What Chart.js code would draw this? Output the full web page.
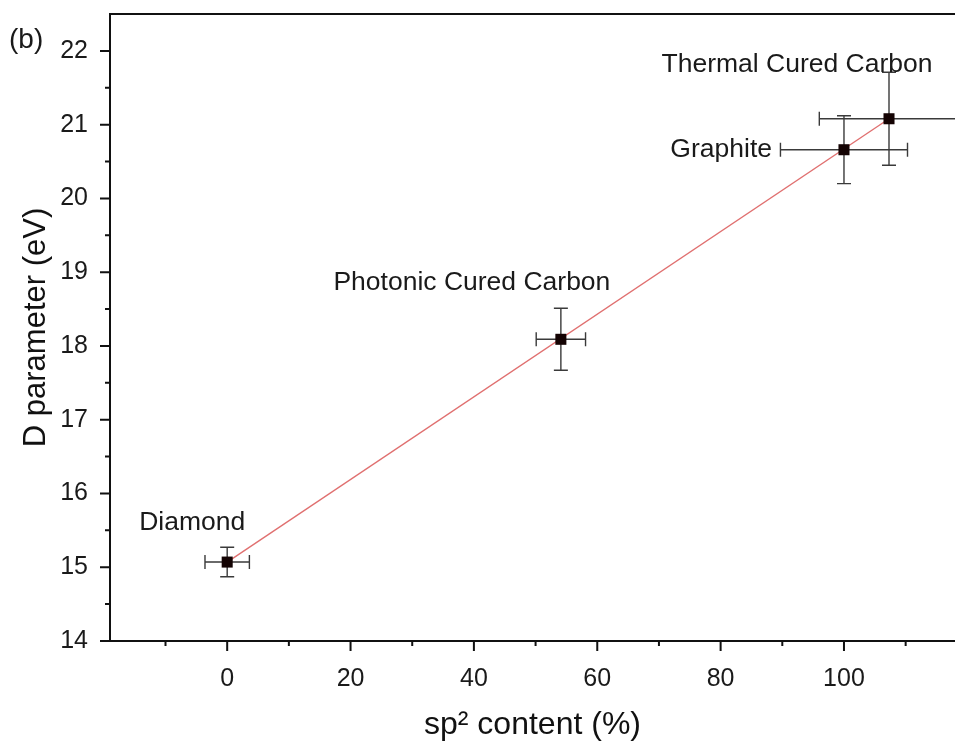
<!DOCTYPE html>
<html><head><meta charset="utf-8">
<script src="https://cdn.jsdelivr.net/npm/chart.js@4"></script>
<style>html,body{margin:0;padding:0;background:#fff}</style>
</head><body>
<canvas id="c" width="955" height="747"></canvas>
<script>
// ---- data ----
const materials = ['Diamond', 'Photonic Cured Carbon', 'Graphite', 'Thermal Cured Carbon'];
const sp2Content = [0, 54.1, 100, 107.3];
const dParameter = [15.07, 18.09, 20.66, 21.08];
const sp2Error = [3.6, 4.0, 10.3, 11.3];
const dError = [0.2, 0.42, 0.46, 0.63];
const fitX = [0, 107.3];
const fitY = [15.07, 21.08];
const xTicks = [0, 20, 40, 60, 80, 100];
const xMinorTicks = [-10, 10, 30, 50, 70, 90, 110];
const yTicks = [14, 15, 16, 17, 18, 19, 20, 21, 22];
const yMinorTicks = [14.5, 15.5, 16.5, 17.5, 18.5, 19.5, 20.5, 21.5];
const xRange = [-19, 118];
const yRange = [14, 22.5];
const panelLabel = '(b)';

// ---- styles ----
const FAMILY = '"Liberation Sans", Arial, sans-serif';
const labelStyle = [
  {dx: -35, dy: -32, align: 'center'},
  {dx: -89, dy: -49, align: 'center'},
  {dx: -72, dy: 7, align: 'right'},
  {dx: -92, dy: -47, align: 'center'}
];

function noPad(s) { s.paddingTop = 0; s.paddingBottom = 0; s.paddingLeft = 0; s.paddingRight = 0; }

const decor = {
  id: 'decor',
  beforeDatasetsDraw(chart) {
    const {ctx, scales: {x, y}} = chart;
    ctx.save();
    ctx.strokeStyle = '#3a3a3a';
    ctx.lineWidth = 1.4;
    const cap = 7;
    for (let i = 0; i < sp2Content.length; i++) {
      const px = x.getPixelForValue(sp2Content[i]);
      const py = y.getPixelForValue(dParameter[i]);
      const x0 = x.getPixelForValue(sp2Content[i] - sp2Error[i]);
      const x1 = x.getPixelForValue(sp2Content[i] + sp2Error[i]);
      const y0 = y.getPixelForValue(dParameter[i] + dError[i]);
      const y1 = y.getPixelForValue(dParameter[i] - dError[i]);
      ctx.beginPath();
      ctx.moveTo(x0, py); ctx.lineTo(x1, py);
      ctx.moveTo(x0, py - cap); ctx.lineTo(x0, py + cap);
      ctx.moveTo(x1, py - cap); ctx.lineTo(x1, py + cap);
      ctx.moveTo(px, y0); ctx.lineTo(px, y1);
      ctx.moveTo(px - cap, y0); ctx.lineTo(px + cap, y0);
      ctx.moveTo(px - cap, y1); ctx.lineTo(px + cap, y1);
      ctx.stroke();
    }
    ctx.restore();
  },
  afterDraw(chart) {
    const {ctx, chartArea: a, scales: {x, y}} = chart;
    ctx.save();
    ctx.strokeStyle = '#111';
    ctx.lineWidth = 2;
    // top frame line
    ctx.beginPath();
    ctx.moveTo(a.left - 1, a.top); ctx.lineTo(a.right, a.top);
    ctx.stroke();
    // ticks
    ctx.beginPath();
    xTicks.forEach(v => { const p = x.getPixelForValue(v); ctx.moveTo(p, a.bottom); ctx.lineTo(p, a.bottom + 10); });
    xMinorTicks.forEach(v => { const p = x.getPixelForValue(v); ctx.moveTo(p, a.bottom); ctx.lineTo(p, a.bottom + 5); });
    yTicks.forEach(v => { const p = y.getPixelForValue(v); ctx.moveTo(a.left, p); ctx.lineTo(a.left - 10, p); });
    yMinorTicks.forEach(v => { const p = y.getPixelForValue(v); ctx.moveTo(a.left, p); ctx.lineTo(a.left - 5, p); });
    ctx.stroke();
    // point labels
    ctx.fillStyle = '#1a1a1a';
    ctx.font = '26.5px ' + FAMILY;
    ctx.textBaseline = 'alphabetic';
    materials.forEach((m, i) => {
      const s = labelStyle[i];
      ctx.textAlign = s.align;
      ctx.fillText(m, x.getPixelForValue(sp2Content[i]) + s.dx, y.getPixelForValue(dParameter[i]) + s.dy);
    });
    // panel label
    ctx.textAlign = 'left';
    ctx.font = '28px ' + FAMILY;
    ctx.fillText(panelLabel, 9, 48);
    ctx.restore();
  }
};

new Chart(document.getElementById('c'), {
  type: 'scatter',
  data: {
    datasets: [
      {
        type: 'line',
        data: fitX.map((v, i) => ({x: v, y: fitY[i]})),
        borderColor: '#e07070',
        borderWidth: 1.4,
        pointRadius: 0,
        fill: false,
        order: 1
      },
      {
        data: sp2Content.map((v, i) => ({x: v, y: dParameter[i]})),
        pointStyle: 'rect',
        pointRadius: 7.8,
        backgroundColor: '#140303',
        borderColor: '#140303',
        borderWidth: 0,
        order: 0
      }
    ]
  },
  options: {
    responsive: false,
    animation: false,
    layout: {autoPadding: false, padding: {top: 14, right: 0, left: 0, bottom: 0}},
    plugins: {legend: {display: false}, tooltip: {enabled: false}},
    scales: {
      x: {
        type: 'linear',
        min: xRange[0], max: xRange[1],
        afterBuildTicks: s => { s.ticks = xTicks.map(v => ({value: v})); },
        afterFit: s => { s.height = 106; noPad(s); },
        grid: {display: false, drawTicks: false},
        border: {display: true, color: '#111', width: 2},
        ticks: {padding: 23, color: '#1a1a1a', font: {size: 25, family: FAMILY}},
        title: {display: true, text: 'sp² content (%)', color: '#111',
                font: {size: 32, family: FAMILY}, padding: {top: 0, bottom: 3}}
      },
      y: {
        type: 'linear',
        min: yRange[0], max: yRange[1],
        afterBuildTicks: s => { s.ticks = yTicks.map(v => ({value: v})); },
        afterFit: s => { s.width = 110; noPad(s); },
        grid: {display: false, drawTicks: false},
        border: {display: true, color: '#111', width: 2},
        ticks: {padding: 22, color: '#1a1a1a', font: {size: 25, family: FAMILY}},
        title: {display: true, text: 'D parameter (eV)', color: '#111',
                font: {size: 31, family: FAMILY}, padding: {top: 18, bottom: 0}}
      }
    }
  },
  plugins: [decor]
});
</script>
</body></html>
